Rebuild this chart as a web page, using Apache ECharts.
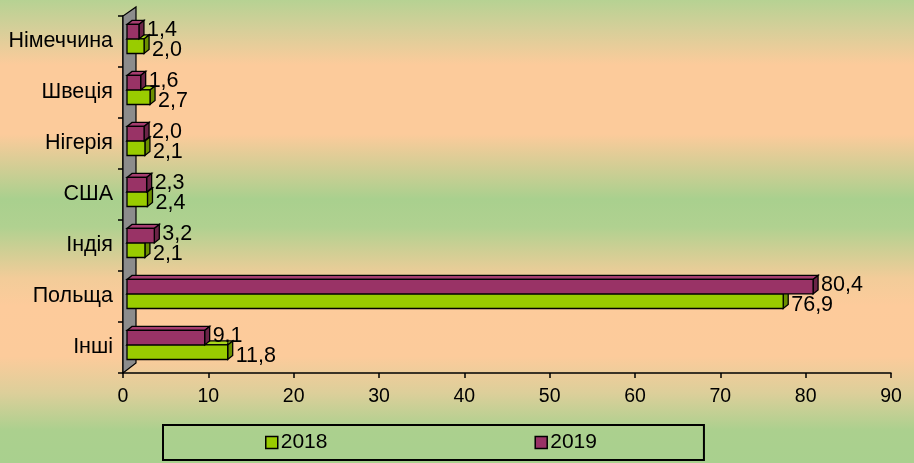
<!DOCTYPE html>
<html>
<head>
<meta charset="utf-8">
<script src="https://cdn.jsdelivr.net/npm/echarts@6/dist/echarts.min.js"></script>
<style>html,body{margin:0;padding:0;}#c{width:914px;height:463px;}</style>
</head>
<body>
<div id="c"></div>
<script>
const categories = ['Інші', 'Польща', 'Індія', 'США', 'Нігерія', 'Швеція', 'Німеччина'];
const values2018 = [11.8, 76.9, 2.1, 2.4, 2.1, 2.7, 2.0];
const values2019 = [9.1, 80.4, 3.2, 2.3, 2.0, 1.6, 1.4];
const seriesNames = ['2018', '2019'];
const xMin = 0, xMax = 90, xStep = 10;

const FONT = 'Liberation Sans, Arial, sans-serif';
const fmt = v => v.toFixed(1).replace('.', ',');

function makeBar(isTop, front, side, top) {
  return function (params, api) {
    const i = api.value(0), v = api.value(1);
    const base = api.coord([0, i]);
    const end = api.coord([v, i]);
    const band = api.size([0, 1])[1];
    const h = band * 0.285;
    const split = base[1] - band * 0.05;
    const y0 = isTop ? split - h : split;
    const x0 = base[0] + 4, x1 = end[0] + 4;
    const dx = 5, dy = -4, lw = 1.3;
    return {
      type: 'group',
      children: [
        { type: 'polygon', shape: { points: [[x0, y0], [x0 + dx, y0 + dy], [x1 + dx, y0 + dy], [x1, y0]] },
          style: { fill: top, stroke: '#000', lineWidth: lw } },
        { type: 'polygon', shape: { points: [[x1, y0], [x1 + dx, y0 + dy], [x1 + dx, y0 + h + dy], [x1, y0 + h]] },
          style: { fill: side, stroke: '#000', lineWidth: lw } },
        { type: 'rect', shape: { x: x0, y: y0, width: x1 - x0, height: h },
          style: { fill: front, stroke: '#000', lineWidth: lw } },
        { type: 'text', z2: 100, style: { text: fmt(v), x: x1 + dx + 3, y: y0 + h / 2 + (isTop ? -1.5 : 4),
          fill: '#000', font: '21.5px ' + FONT, align: 'left', verticalAlign: 'middle' } }
      ]
    };
  };
}

function wall(params, api) {
  const band = api.size([0, 1])[1];
  const c0 = api.coord([0, 0]);
  const c6 = api.coord([0, categories.length - 1]);
  const x = c0[0];
  const yb = c0[1] + band / 2, yt = c6[1] - band / 2;
  return {
    type: 'polygon',
    shape: { points: [[x, yb], [x, yt], [x + 13, yt - 9], [x + 13, yb - 10]] },
    style: { fill: '#8c8c8c', stroke: '#000', lineWidth: 1.2 }
  };
}

const chart = echarts.init(document.getElementById('c'));
chart.setOption({
  animation: false,
  backgroundColor: {
    type: 'linear', x: 0, y: 0, x2: 0, y2: 1,
    colorStops: [
      { offset: 0, color: '#b6d293' },
      { offset: 0.06, color: '#d4cf99' },
      { offset: 0.14, color: '#fccb9b' },
      { offset: 0.29, color: '#fccb9b' },
      { offset: 0.43, color: '#a9d08e' },
      { offset: 0.49, color: '#b0d190' },
      { offset: 0.6, color: '#f2cc99' },
      { offset: 0.66, color: '#fdcb9b' },
      { offset: 0.77, color: '#fccb9b' },
      { offset: 0.85, color: '#dccf9a' },
      { offset: 0.93, color: '#abd08e' },
      { offset: 1, color: '#a9d08e' }
    ]
  },
  grid: { left: 123, right: 23, top: 16, bottom: 90, containLabel: false },
  legend: {
    data: seriesNames,
    left: 163, top: 425,
    padding: [7, 107, 7, 102],
    itemGap: 207,
    itemWidth: 12, itemHeight: 12,
    icon: 'rect',
    borderColor: '#000', borderWidth: 2,
    itemStyle: { borderColor: '#000', borderWidth: 1.5 },
    textStyle: { color: '#000', fontSize: 21, fontFamily: FONT, padding: [0, 0, 0, -2] }
  },
  xAxis: {
    type: 'value', min: xMin, max: xMax, interval: xStep,
    splitLine: { show: false },
    axisLine: { show: true, lineStyle: { color: '#000', width: 1.5 } },
    axisTick: { show: true, length: 5, lineStyle: { color: '#000', width: 1.5 } },
    axisLabel: { color: '#000', fontSize: 19.5, fontFamily: FONT, margin: 14 }
  },
  yAxis: {
    type: 'category', data: categories,
    axisLine: { show: true, lineStyle: { color: '#000', width: 1.5 } },
    axisTick: { show: true, length: 5, lineStyle: { color: '#000', width: 1.5 } },
    axisLabel: { color: '#000', fontSize: 21.5, fontFamily: FONT, margin: 10 }
  },
  series: [
    { type: 'custom', name: 'wall', silent: true, renderItem: wall,
      data: [[0, 0]], encode: { x: 1, y: 0 }, z: 1 },
    { type: 'custom', name: seriesNames[0], renderItem: makeBar(false, '#99cc00', '#6b8f00', '#a8d61a'),
      itemStyle: { color: '#99cc00' },
      data: categories.map((c, i) => [i, values2018[i]]), encode: { x: 1, y: 0 }, z: 2 },
    { type: 'custom', name: seriesNames[1], renderItem: makeBar(true, '#993366', '#6b2447', '#a63d70'),
      itemStyle: { color: '#993366' },
      data: categories.map((c, i) => [i, values2019[i]]), encode: { x: 1, y: 0 }, z: 3 }
  ]
});
</script>
</body>
</html>
